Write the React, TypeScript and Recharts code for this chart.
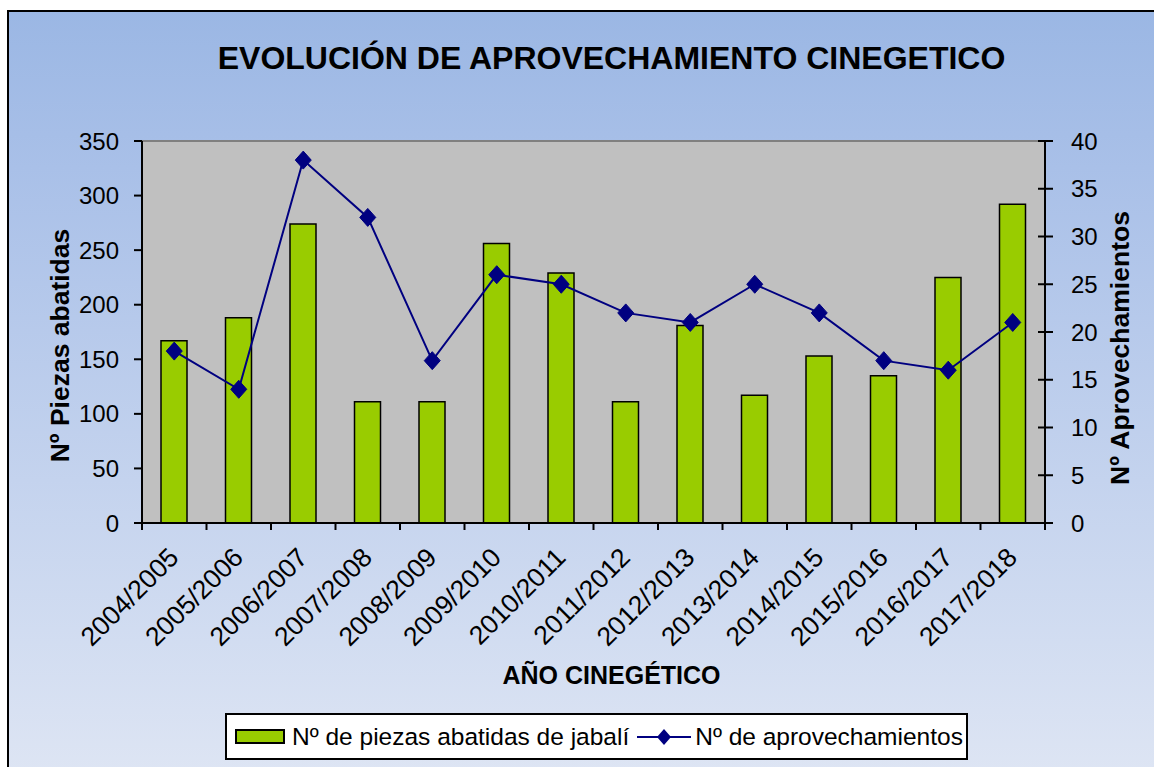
import { ComposedChart, Bar, Line, XAxis, YAxis, CartesianGrid, ReferenceLine } from "recharts";

const seasons = [
  "2004/2005", "2005/2006", "2006/2007", "2007/2008", "2008/2009", "2009/2010", "2010/2011",
  "2011/2012", "2012/2013", "2013/2014", "2014/2015", "2015/2016", "2016/2017", "2017/2018",
];
const piezas = [167, 188, 274, 111, 111, 256, 229, 111, 181, 117, 153, 135, 225, 292];
const aprovechamientos = [18, 14, 38, 32, 17, 26, 25, 22, 21, 25, 22, 17, 16, 21];
const leftTicks = [0, 50, 100, 150, 200, 250, 300, 350];
const rightTicks = [0, 5, 10, 15, 20, 25, 30, 35, 40];

const FONT = '"Liberation Sans", Arial, Helvetica, sans-serif';
const GREEN = "#99cc00";
const NAVY = "#000080";

const data = seasons.map((season, i) => ({
  season,
  piezas: piezas[i],
  aprov: aprovechamientos[i],
}));

const RIGHT_TICK_SIZE = 8;
const RIGHT_TICK_MARGIN = 18;

// season label plus the tick marks on the category edges (Excel style)
function SeasonTick({ x, y, payload, width, visibleTicksCount, index }: any) {
  const band = width / visibleTicksCount;
  const left = x - band / 2;
  return (
    <g>
      <line x1={left} x2={left} y1={y} y2={y + 7} stroke="#000" strokeWidth={2} />
      {index === visibleTicksCount - 1 && (
        <line x1={left + band} x2={left + band} y1={y} y2={y + 7} stroke="#000" strokeWidth={2} />
      )}
      <text
        x={0}
        y={0}
        transform={`translate(${x + 6},${y + 36}) rotate(-45)`}
        textAnchor="end"
        fontSize={26.5}
        fontFamily={FONT}
        fill="#000"
      >
        {payload.value}
      </text>
    </g>
  );
}

function RightTick({ x, y, payload }: any) {
  const axisX = x - RIGHT_TICK_SIZE - RIGHT_TICK_MARGIN;
  return (
    <g>
      <line x1={axisX - 7} x2={axisX} y1={y} y2={y} stroke="#000" strokeWidth={2} />
      <text x={x} y={y} dy="0.36em" textAnchor="start" fontSize={24} fontFamily={FONT} fill="#000">
        {payload.value}
      </text>
    </g>
  );
}

function Diamond({ cx, cy }: any) {
  if (cx == null || cy == null) return null;
  return (
    <polygon
      points={`${cx},${cy - 9} ${cx + 8},${cy} ${cx},${cy + 9} ${cx - 8},${cy}`}
      fill={NAVY}
      stroke={NAVY}
    />
  );
}

export default function App() {
  return (
    <div style={{ position: "fixed", left: 0, top: 0, width: 1154, height: 767, overflow: "hidden", background: "#fff" }}>
      <div
        style={{
          position: "absolute",
          left: 7,
          top: 10,
          width: 1160,
          height: 780,
          border: "2px solid #000",
          background: "linear-gradient(to bottom, #9bb7e4 0%, #a9c0e8 20%, #dfe6f4 100%)",
        }}
      >
        <ComposedChart
          width={1150}
          height={760}
          data={data}
          margin={{ top: 129, right: 0, bottom: 0, left: 0 }}
          style={{ fontFamily: FONT }}
        >
          <CartesianGrid xAxisId="cat" yAxisId="left" fill="#c0c0c0" horizontal={false} vertical={false} />
          <XAxis
            xAxisId="cat"
            dataKey="season"
            interval={0}
            height={249}
            tickLine={false}
            tickSize={0}
            tickMargin={0}
            axisLine={{ stroke: "#000", strokeWidth: 2 }}
            tick={<SeasonTick />}
          />
          <YAxis
            yAxisId="left"
            orientation="left"
            width={133}
            domain={[0, 350]}
            ticks={leftTicks}
            interval={0}
            tickSize={8}
            tickMargin={15}
            tickLine={{ stroke: "#000", strokeWidth: 2 }}
            axisLine={{ stroke: "#000", strokeWidth: 2 }}
            tick={{ fontSize: 24, fill: "#000", fontFamily: FONT }}
          />
          <YAxis
            yAxisId="right"
            orientation="right"
            width={114}
            domain={[0, 40]}
            ticks={rightTicks}
            interval={0}
            tickSize={RIGHT_TICK_SIZE}
            tickMargin={RIGHT_TICK_MARGIN}
            tickLine={{ stroke: "#000", strokeWidth: 2 }}
            axisLine={{ stroke: "#000", strokeWidth: 2 }}
            tick={<RightTick />}
          />
          <ReferenceLine xAxisId="cat" yAxisId="left" y={350} stroke="#808080" strokeWidth={2} />
          <Bar
            xAxisId="cat"
            yAxisId="left"
            dataKey="piezas"
            barSize={26}
            fill={GREEN}
            stroke="#000"
            strokeWidth={1.5}
            isAnimationActive={false}
          />
          <Line
            xAxisId="cat"
            yAxisId="right"
            dataKey="aprov"
            type="linear"
            stroke={NAVY}
            strokeWidth={2}
            dot={<Diamond />}
            activeDot={false}
            isAnimationActive={false}
          />
        </ComposedChart>
      </div>

      <svg width={1154} height={767} style={{ position: "absolute", left: 0, top: 0, pointerEvents: "none" }}>
        <text x={611.5} y={69} textAnchor="middle" fontSize={32} fontWeight="bold" fontFamily={FONT} fill="#000">
          EVOLUCIÓN DE APROVECHAMIENTO CINEGETICO
        </text>
        <text
          transform="translate(60,345.5) rotate(-90)"
          textAnchor="middle"
          dominantBaseline="central"
          fontSize={26.5}
          fontWeight="bold"
          fontFamily={FONT}
          fill="#000"
        >
          Nº Piezas abatidas
        </text>
        <text
          transform="translate(1120,348) rotate(-90)"
          textAnchor="middle"
          dominantBaseline="central"
          fontSize={26.5}
          fontWeight="bold"
          fontFamily={FONT}
          fill="#000"
        >
          Nº Aprovechamientos
        </text>
        <text x={611.5} y={684} textAnchor="middle" fontSize={25} fontWeight="bold" fontFamily={FONT} fill="#000">
          AÑO CINEGÉTICO
        </text>
      </svg>

      <div
        style={{
          position: "absolute",
          left: 225,
          top: 713,
          width: 743,
          height: 47,
          boxSizing: "border-box",
          border: "2px solid #000",
          background: "#fff",
          display: "flex",
          alignItems: "center",
          fontFamily: FONT,
          fontSize: 24.5,
          color: "#000",
          whiteSpace: "nowrap",
        }}
      >
        <span
          style={{
            display: "inline-block",
            marginLeft: 8,
            width: 50,
            height: 15,
            boxSizing: "border-box",
            background: GREEN,
            border: "2px solid #000",
          }}
        />
        <span style={{ marginLeft: 7 }}>Nº de piezas abatidas de jabalí</span>
        <svg width={56} height={20} style={{ marginLeft: 8 }}>
          <line x1={0} x2={54} y1={10} y2={10} stroke={NAVY} strokeWidth={2} />
          <polygon points="27,2 34,10 27,18 20,10" fill={NAVY} />
        </svg>
        <span style={{ marginLeft: 2 }}>Nº de aprovechamientos</span>
      </div>
    </div>
  );
}
